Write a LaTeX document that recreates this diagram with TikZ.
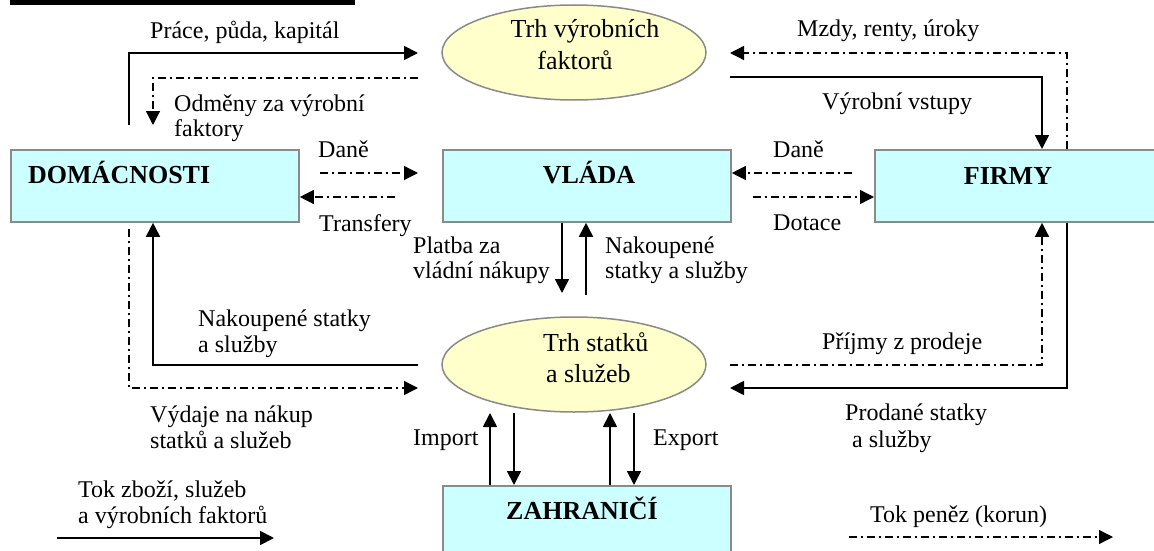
\documentclass[tikz,border=0pt]{standalone}
\usepackage{fontspec}
\setmainfont{Liberation Serif}
\usetikzlibrary{arrows.meta,shapes.geometric}

\definecolor{sectorfill}{HTML}{CCFFFF}
\definecolor{marketfill}{HTML}{FFFFCC}
\definecolor{edgegray}{HTML}{8A8A8A}

\tikzset{
  sector/.style={draw=edgegray, line width=1.8pt, fill=sectorfill, inner sep=0pt,
                 anchor=north west},
  market/.style={ellipse, draw=edgegray, line width=1.5pt, fill=marketfill, inner sep=0pt,
                 minimum width=264pt, minimum height=95pt},
  sectorname/.style={font=\fontsize{26}{28}\selectfont\bfseries, inner sep=0pt, anchor=base},
  marketname/.style={font=\fontsize{26}{28}\selectfont, inner sep=0pt, anchor=base},
  lbl/.style={font=\fontsize{24}{26}\selectfont, inner sep=0pt, anchor=base west},
  goods/.style={line width=1.8pt, -{Triangle[length=14pt,width=14pt]}},
  money/.style={line width=1.3pt, dash pattern=on 8pt off 4pt on 2pt off 4pt,
                -{Triangle[length=14pt,width=14pt]}},
}

\begin{document}
\begin{tikzpicture}[x=1pt, y=-1pt]
\useasboundingbox (0,0) rectangle (1154,551);

% heading rule cut by the page top
\fill (10,0) rectangle (355,5);

% ---- sectors and markets ----
\node[market] (factors) at (574,52.5) {};
\node[marketname] (factors1) at (585,38) {Trh výrobních};
\node[marketname] (factors2) at (575,70) {faktorů};

\node[sector, minimum width=288pt, minimum height=72pt] (home) at (10,149) {};
\node[sectorname, anchor=base west] (homename) at (28,183) {DOMÁCNOSTI};

\node[sector, minimum width=288pt, minimum height=72pt] (gov) at (442,149) {};
\node[sectorname] (govname) at (589,183) {VLÁDA};

\node[sector, minimum width=290pt, minimum height=72pt] (firms) at (874,149) {};
\node[sectorname] (firmsname) at (1008,184) {FIRMY};

\node[market] (goodsmkt) at (574,364.5) {};
\node[marketname, anchor=base west] (goods1) at (543,351) {Trh statků};
\node[marketname, anchor=base west] (goods2) at (546,382) {a služeb};

\node[sector, minimum width=288pt, minimum height=80pt] (abroad) at (442,485) {};
\node[sectorname] (abroadname) at (582,519) {ZAHRANIČÍ};

% ---- connector end and bend points ----
\coordinate (hA) at (129,125);   \coordinate (hB) at (129,53);   \coordinate (fL1) at (418,53);
\coordinate (fL2) at (418,78);   \coordinate (hC) at (153,78);   \coordinate (hD) at (153,125);
\coordinate (kA) at (1067,53);   \coordinate (fR1) at (730,53);
\coordinate (fR2) at (730,77);   \coordinate (kB) at (1042,77);
\coordinate (tx1) at (320,173);  \coordinate (tx2) at (418,173);
\coordinate (tr1) at (395,197);
\coordinate (tx3) at (852,173);
\coordinate (su1) at (753,197);
\coordinate (pay) at (562,293);  \coordinate (buy) at (586,295);
\coordinate (gL1) at (418,365);  \coordinate (hE) at (153,365);
\coordinate (hF) at (129,388);   \coordinate (gL2) at (418,388);
\coordinate (gR1) at (730,365);  \coordinate (kC) at (1042,365);
\coordinate (kD) at (1067,388);  \coordinate (gR2) at (730,388);
\coordinate (gB) at (0,413);
\coordinate (lg1) at (57,538);   \coordinate (lg2) at (274,538);
\coordinate (lm1) at (849,537);  \coordinate (lm2) at (1113,537);

% ---- factor market ----
\draw[goods] (hA) -- (hB) -- (fL1);
\draw[money] (fL2) -- (hC) -- (hD);
\draw[money] (firms.north -| kA) -- (kA) -- (fR1);
\draw[goods] (fR2) -- (kB) -- (firms.north -| kB);

\node[lbl] (l1) at (150,39) {Práce, půda, kapitál};
\node[lbl] (l2a) at (174,111) {Odměny za výrobní};
\node[lbl] (l2b) at (174,136) {faktory};
\node[lbl] (l3) at (797,37) {Mzdy, renty, úroky};
\node[lbl] (l4) at (822,109) {Výrobní vstupy};

% ---- government ----
\draw[money] (tx1) -- (tx2);
\draw[money] (tr1) -- (home.east |- tr1);
\draw[money] (tx3) -- (gov.east |- tx3);
\draw[money] (su1) -- (firms.west |- su1);
\draw[goods] (gov.south -| pay) -- (pay);
\draw[goods] (buy) -- (gov.south -| buy);

\node[lbl] (l5) at (318,157) {Daně};
\node[lbl] (l6) at (319,231) {Transfery};
\node[lbl] (l7) at (773,157) {Daně};
\node[lbl] (l8) at (773,230) {Dotace};
\node[lbl] (l9a) at (413,253) {Platba za};
\node[lbl] (l9b) at (413,278) {vládní nákupy};
\node[lbl] (l10a) at (605,253) {Nakoupené};
\node[lbl] (l10b) at (605,278) {statky a služby};

% ---- goods market ----
\draw[goods] (gL1) -- (hE) -- (home.south -| hE);
\draw[money] (home.south -| hF) ++(0,6) -- (hF) -- (gL2);
\draw[money] (gR1) -- (kC) -- (firms.south -| kC);
\draw[goods] (firms.south -| kD) -- (kD) -- (gR2);

\node[lbl] (l11a) at (198,326) {Nakoupené statky};
\node[lbl] (l11b) at (198,352) {a služby};
\node[lbl] (l12a) at (150,422) {Výdaje na nákup};
\node[lbl] (l12b) at (150,448) {statků a služeb};
\node[lbl] (l13) at (822,349) {Příjmy z prodeje};
\node[lbl] (l14a) at (845,420) {Prodané statky};
\node[lbl] (l14b) at (852,447) {a služby};

% ---- foreign trade ----
\draw[goods] (abroad.north -| 490,0) -- (gB -| 490,0);
\draw[goods] (gB -| 514,0) -- (abroad.north -| 514,0);
\draw[goods] (abroad.north -| 610,0) -- (gB -| 610,0);
\draw[goods] (gB -| 634,0) -- (abroad.north -| 634,0);
\node[lbl] (l15) at (413,445) {Import};
\node[lbl] (l16) at (653,445) {Export};

% ---- legend ----
\draw[goods] (lg1) -- (lg2);
\node[lbl] (lg1a) at (78,497) {Tok zboží, služeb};
\node[lbl] (lg1b) at (78,523) {a výrobních faktorů};
\draw[money] (lm1) -- (lm2);
\node[lbl] (lm) at (870,522) {Tok peněz (korun)};
\end{tikzpicture}
\end{document}
